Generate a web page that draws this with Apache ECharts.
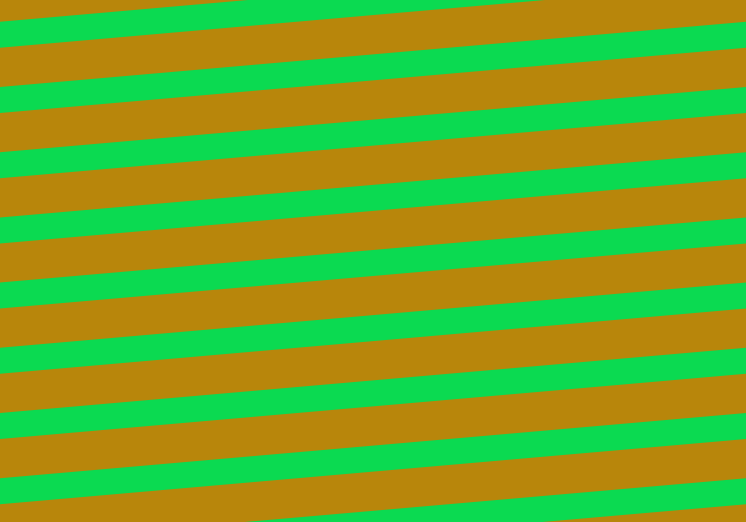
<!DOCTYPE html>
<html lang="en">
<head>
    <meta charset="UTF-8">
    <title></title>
    <style>
        html, body { margin: 0; padding: 0; background: #B8860B; }
        #chart { width: 746px; height: 522px; }
    </style>
</head>
<body>
<div id="chart"></div>
<script src="https://cdn.jsdelivr.net/npm/echarts@6/dist/echarts.min.js"></script>
<script>
    // stripe centre height at the left edge (x=0) and right edge (x=746)
    var stripeLeftY = [34.7, 100, 165.2, 230.4, 295.6, 360.8, 426, 491.2, 556.4];
    var stripeRightY = [-30.6, 34.7, 100, 165.2, 230.4, 295.6, 360.8, 426, 491.2];
    var edgeX = [0, 746];

    var series = [];
    for (var i = 0; i < stripeLeftY.length; i++) {
        series.push({
            type: 'line',
            clip: true,
            silent: true,
            symbol: 'none',
            animation: false,
            data: [[edgeX[0], stripeLeftY[i]], [edgeX[1], stripeRightY[i]]],
            lineStyle: { color: '#0BDA51', width: 25.9, cap: 'square' }
        });
    }

    var myChart = echarts.init(document.getElementById('chart'));
    myChart.setOption({
        backgroundColor: '#B8860B',
        grid: { left: 0, right: 0, top: 0, bottom: 0 },
        xAxis: { type: 'value', min: 0, max: 746, show: false },
        yAxis: { type: 'value', min: 0, max: 522, inverse: true, show: false },
        series: series
    });
</script>
</body>
</html>
